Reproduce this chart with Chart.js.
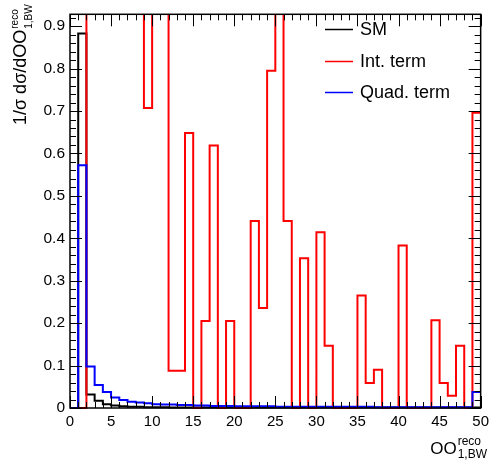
<!DOCTYPE html>
<html>
<head>
<meta charset="utf-8">
<script src="https://cdn.jsdelivr.net/npm/chart.js@4/dist/chart.umd.min.js"></script>
<style>
html,body{margin:0;padding:0;background:#fff;}
#wrap{width:494px;height:460px;}
</style>
</head>
<body>
<div id="wrap"><canvas id="c" width="494" height="460"></canvas></div>
<script>
// bin lower edges (width 1), plus the upper edge of the last bin
const binEdges = [0,1,2,3,4,5,6,7,8,9,10,11,12,13,14,15,16,17,18,19,20,21,22,23,24,25,26,27,28,29,30,31,32,33,34,35,36,37,38,39,40,41,42,43,44,45,46,47,48,49,50];

const smValues = [0,0.883,0.032,0.017,0.009,0.006,0.004,0.003,0.003,0.002,
  0.002,0.002,0.001,0.001,0.001,0.001,0.001,0.001,0.001,0.001,
  0.001,0.001,0.001,0.001,0.001,0.001,0.001,0.001,0.001,0.001,
  0.001,0.001,0.001,0.001,0.001,0.001,0.001,0.001,0.001,0.001,
  0.001,0.001,0.001,0.001,0.001,0.001,0.001,0.001,0.001,0.001];

const intValues = [0,0,2.4,1.8,1.6,1.4,1.3,1.2,1.1,0.707,
  1.1,1.0,0.088,0.088,0.648,0,0.205,0.619,0,0.205,
  0,0,0.441,0.236,0.795,1.05,0.441,0,0.353,0,
  0.414,0.147,0,0,0,0.265,0.059,0.090,0,0,
  0.383,0,0,0,0.207,0.059,0.029,0.147,0,0.696];

const quadValues = [0,0.572,0.098,0.054,0.038,0.025,0.019,0.015,0.013,0.011,
  0.009,0.008,0.008,0.007,0.007,0.006,0.006,0.005,0.005,0.005,
  0.004,0.004,0.004,0.004,0.004,0.003,0.003,0.003,0.003,0.003,
  0.003,0.003,0.003,0.003,0.003,0.003,0.003,0.002,0.002,0.002,
  0.002,0.002,0.002,0.002,0.002,0.002,0.002,0.002,0.002,0.038];

const seriesNames = ['SM','Int. term','Quad. term'];
const seriesColors = ['#000000','#ff0000','#0000ff'];

const xTickValues = [0,5,10,15,20,25,30,35,40,45,50];
const xTickLabels = ['0','5','10','15','20','25','30','35','40','45','50'];
const yTickValues = [0,0.1,0.2,0.3,0.4,0.5,0.6,0.7,0.8,0.9];
const yTickLabels = ['0','0.1','0.2','0.3','0.4','0.5','0.6','0.7','0.8','0.9'];

const FONT = '"Liberation Sans", Arial, Helvetica, sans-serif';

function histPoints(vals){
  const pts = vals.map((v,i)=>({x: binEdges[i], y: v}));
  pts.push({x: binEdges[vals.length], y: vals[vals.length-1]});
  return pts;
}

const allSeries = [smValues,intValues,quadValues];
const datasets = allSeries.map((vals,k)=>({
  label: seriesNames[k],
  data: histPoints(vals),
  borderColor: seriesColors[k],
  backgroundColor: seriesColors[k],
  borderWidth: 2,
  stepped: true,
  pointRadius: 0,
  fill: false,
  tension: 0,
  order: 3-k,
  clip: {left: 1, right: 1, top: 0, bottom: 2}
}));

const framePlugin = {
  id: 'frame',
  afterDraw(chart){
    const ctx = chart.ctx;
    const a = chart.chartArea;
    const xs = chart.scales.x, ys = chart.scales.y;
    ctx.save();
    // ticks
    ctx.strokeStyle = '#000';
    ctx.lineWidth = 1;
    ctx.beginPath();
    for (let i = 0; i <= 50; i++){
      const px = Math.round(xs.getPixelForValue(i)) + 0.5;
      const len = (i % 5 === 0) ? 12 : 6;
      ctx.moveTo(px, a.bottom); ctx.lineTo(px, a.bottom - len);
      ctx.moveTo(px, a.top); ctx.lineTo(px, a.top + len);
    }
    for (let j = 0; j <= 46; j++){
      const v = j * 0.02;
      if (v > ys.max) break;
      const py = Math.round(ys.getPixelForValue(v)) + 0.5;
      const len = (j % 5 === 0) ? 12 : 6;
      ctx.moveTo(a.left, py); ctx.lineTo(a.left + len, py);
      ctx.moveTo(a.right, py); ctx.lineTo(a.right - len, py);
    }
    ctx.stroke();
    // frame
    ctx.lineWidth = 1.5;
    ctx.strokeRect(a.left, a.top, a.right - a.left, a.bottom - a.top);

    // legend
    ctx.font = '18px ' + FONT;
    ctx.textBaseline = 'middle';
    ctx.textAlign = 'left';
    const ly = [29, 61, 92];
    chart.data.datasets.forEach((ds, k) => {
      ctx.strokeStyle = ds.borderColor;
      ctx.lineWidth = 1.5;
      ctx.beginPath();
      ctx.moveTo(325, ly[k] + 0.5); ctx.lineTo(353, ly[k] + 0.5);
      ctx.stroke();
      ctx.fillStyle = '#000';
      ctx.fillText(ds.label, 360, ly[k] + 1);
    });

    // x axis title
    ctx.fillStyle = '#000';
    ctx.textBaseline = 'alphabetic';
    ctx.textAlign = 'left';
    ctx.font = '17px ' + FONT;
    const xt = 'OO';
    const xtw = ctx.measureText(xt).width;
    ctx.font = '12px ' + FONT;
    const supW = ctx.measureText('reco').width;
    const subW = ctx.measureText('1,BW').width;
    const xEnd = 487;
    const xStart = xEnd - Math.max(supW, subW) - xtw - 1;
    ctx.font = '17px ' + FONT;
    ctx.fillText(xt, xStart, 454);
    ctx.font = '12px ' + FONT;
    ctx.fillText('reco', xStart + xtw + 1, 445);
    ctx.fillText('1,BW', xStart + xtw + 1, 458);

    // y axis title (rotated)
    ctx.save();
    ctx.translate(25.5, 125);
    ctx.rotate(-Math.PI/2);
    ctx.font = '18px ' + FONT;
    const yt = '1/σ dσ/dOO';
    const ytw = ctx.measureText(yt).width;
    ctx.fillText(yt, 0, 0);
    ctx.font = '10px ' + FONT;
    ctx.fillText('reco', ytw + 1, -7.5);
    ctx.fillText('1,BW', ytw + 1, 6.5);
    ctx.restore();

    ctx.restore();
  }
};

new Chart(document.getElementById('c'), {
  type: 'line',
  data: { datasets },
  options: {
    responsive: false,
    animation: false,
    events: [],
    layout: { padding: { top: 8, right: 8, left: 0, bottom: 0 } },
    plugins: { legend: { display: false }, tooltip: { enabled: false } },
    scales: {
      x: {
        type: 'linear', min: 0, max: 50,
        grid: { display: false, drawTicks: false },
        border: { display: false },
        afterFit(s){ s.height = 52; },
        afterBuildTicks(s){ s.ticks = xTickValues.map(v => ({value: v})); },
        ticks: {
          padding: 5, color: '#000', maxRotation: 0, autoSkip: false,
          font: { family: FONT, size: 15 },
          callback: (v, i) => xTickLabels[i]
        }
      },
      y: {
        type: 'linear', min: 0, max: 0.928,
        grid: { display: false, drawTicks: false },
        border: { display: false },
        afterFit(s){ s.width = 70; },
        afterBuildTicks(s){ s.ticks = yTickValues.map(v => ({value: v})); },
        ticks: {
          padding: 5, color: '#000', autoSkip: false,
          font: { family: FONT, size: 15.5 },
          callback: (v, i) => yTickLabels[i]
        }
      }
    }
  },
  plugins: [framePlugin]
});
</script>
</body>
</html>
